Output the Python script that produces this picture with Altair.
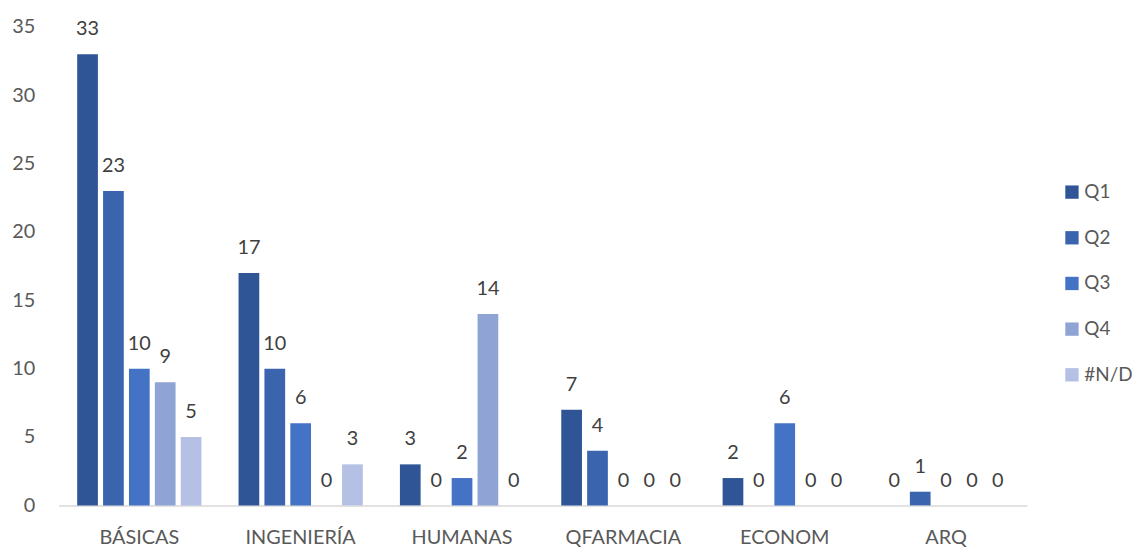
import altair as alt
import pandas as pd

categories = ["BÁSICAS", "INGENIERÍA", "HUMANAS", "QFARMACIA", "ECONOM", "ARQ"]
series = ["Q1", "Q2", "Q3", "Q4", "#N/D"]
q1 = [33, 17, 3, 7, 2, 0]
q2 = [23, 10, 0, 4, 0, 1]
q3 = [10, 6, 2, 0, 6, 0]
q4 = [9, 0, 14, 0, 0, 0]
nd = [5, 3, 0, 0, 0, 0]
colors = ["#2F5597", "#3A64AD", "#4472C4", "#8FA3D4", "#B4C0E4"]

rows = []
for s, vals in zip(series, [q1, q2, q3, q4, nd]):
    for c, v in zip(categories, vals):
        rows.append({"cat": c, "serie": s, "valor": v})
df = pd.DataFrame(rows)

FONT = "Lato"
TXT = "#595959"
FS = 20

x = alt.X("cat:N", sort=categories, title=None,
          scale=alt.Scale(paddingInner=0.23, paddingOuter=0.115),
          axis=alt.Axis(labelAngle=0, domainColor="#D9D9D9", domainWidth=1.5,
                        ticks=False, labelPadding=22, labelFontSize=FS,
                        labelColor=TXT, labelFont=FONT))
xo = alt.XOffset("serie:N", sort=series, scale=alt.Scale(paddingInner=0.2))
y = alt.Y("valor:Q", title=None,
          scale=alt.Scale(domain=[0, 35], nice=False),
          axis=alt.Axis(values=[0, 5, 10, 15, 20, 25, 30, 35], grid=False,
                        domain=False, ticks=False, labelPadding=24,
                        labelFontSize=FS, labelColor=TXT, labelFont=FONT))

bars = alt.Chart(df).mark_bar().encode(
    x=x, xOffset=xo, y=y,
    color=alt.Color("serie:N", sort=series,
                    scale=alt.Scale(domain=series, range=colors),
                    legend=alt.Legend(title=None, orient="none", legendX=1011,
                                      legendY=157, symbolType="square",
                                      symbolSize=180, symbolStrokeWidth=0,
                                      labelFontSize=19, labelColor=TXT,
                                      labelFont=FONT, rowPadding=26,
                                      labelOffset=3)),
)

labels = alt.Chart(df).mark_text(baseline="bottom", dy=-15, fontSize=FS,
                                 color="#404040", font=FONT).encode(
    x=x, xOffset=xo, y=y, text=alt.Text("valor:Q"),
)

chart = (bars + labels).properties(
    width=975, height=482,
    autosize=alt.AutoSizeParams(type="none"),
    padding={"left": 51, "top": 17, "right": 110, "bottom": 41},
).configure(font=FONT, view=alt.ViewConfig(strokeWidth=0, stroke="transparent"))

chart.save("out.html", embed_options={"renderer": "svg", "actions": False})
